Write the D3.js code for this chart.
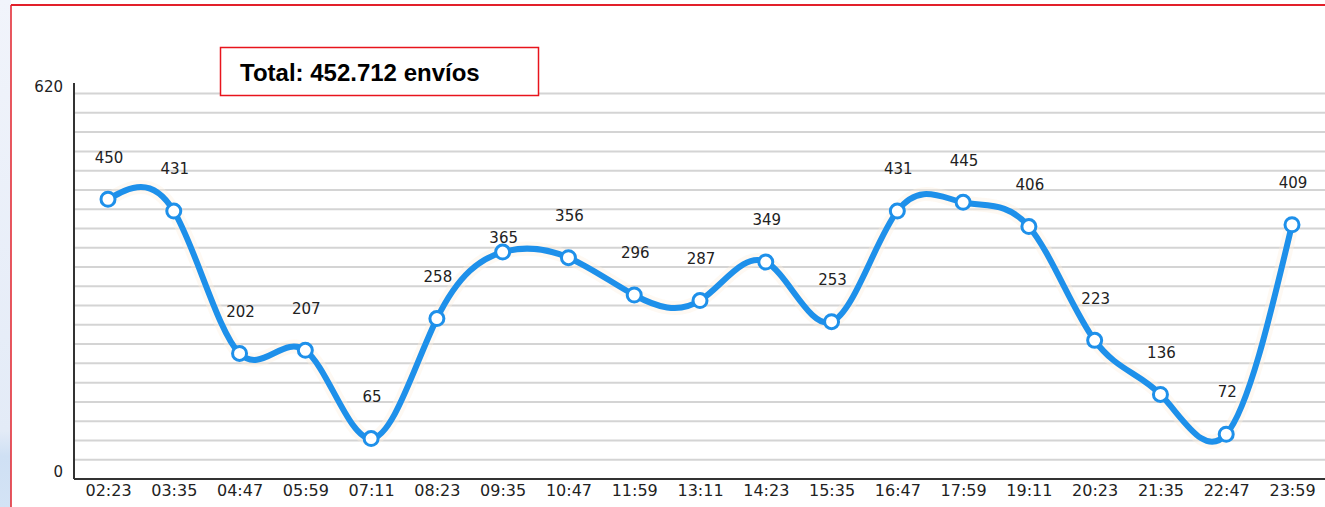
<!DOCTYPE html>
<html>
<head>
<meta charset="utf-8">
<script src="https://cdn.jsdelivr.net/npm/d3@7"></script>
<style>
  body { margin: 0; background: #fff; }
  svg { display: block; }
</style>
</head>
<body>
<div id="chart"></div>
<script>

// data
var horas = ["02:23","03:35","04:47","05:59","07:11","08:23","09:35","10:47","11:59","13:11",
             "14:23","15:35","16:47","17:59","19:11","20:23","21:35","22:47","23:59"];
var envios = [450, 431, 202, 207, 65, 258, 365, 356, 296, 287, 349, 253, 431, 445, 406, 223, 136, 72, 409];
var yTicks = [0, 620];
var totalTexto = "Total: 452.712 envíos";

var W = 1325, H = 507;
var margin = {top: 83, right: 0, bottom: 28, left: 74};

var svg = d3.select("#chart")
  .append("svg")
    .attr("width", W)
    .attr("height", H);

// bluish strip on the left + red frame
var grad = svg.append("defs").append("linearGradient")
    .attr("id", "side").attr("x1", 0).attr("y1", 0).attr("x2", 0).attr("y2", 1);
grad.append("stop").attr("offset", "0").attr("stop-color", "#f1f4fb");
grad.append("stop").attr("offset", "0.85").attr("stop-color", "#e3ebf7");
grad.append("stop").attr("offset", "0.9").attr("stop-color", "#cfe0f4");
grad.append("stop").attr("offset", "1").attr("stop-color", "#d3e3f5");
svg.append("rect").attr("x", 0).attr("y", 0).attr("width", 11).attr("height", H).attr("fill", "url(#side)");
svg.append("line").attr("x1", 11).attr("x2", W).attr("y1", 5).attr("y2", 5)
  .attr("stroke", "#e2202a").attr("stroke-width", 2);
svg.append("line").attr("x1", 11).attr("x2", 11).attr("y1", 5).attr("y2", H)
  .attr("stroke", "#e2202a").attr("stroke-width", 1.5);

var g = svg.append("g")
  .attr("transform", "translate(" + margin.left + "," + margin.top + ")");

var width = W - margin.left - margin.right,
    height = H - margin.top - margin.bottom;

// X axis (points)
var x = d3.scalePoint()
  .domain(horas)
  .range([34, 1218]);

// Y axis: 0 at the bottom, scale runs a little past 620
var y = d3.scaleLinear()
  .domain([0, 637])
  .range([height, 0]);

// horizontal grid every 31
var gridVals = d3.range(31, 621, 31);
g.selectAll(".grid")
  .data(gridVals)
  .enter()
  .append("line")
    .attr("x1", 0)
    .attr("x2", width)
    .attr("y1", function(d) { return y(d); })
    .attr("y2", function(d) { return y(d); })
    .attr("stroke", "#d4d4d4")
    .attr("stroke-width", 2);

// axis lines
g.append("line")
  .attr("x1", 0).attr("x2", 0).attr("y1", 0).attr("y2", height)
  .attr("stroke", "#333").attr("stroke-width", 2);
g.append("line")
  .attr("x1", 0).attr("x2", width).attr("y1", height).attr("y2", height)
  .attr("stroke", "#333").attr("stroke-width", 2);

// y labels
g.selectAll(".ylab")
  .data(yTicks)
  .enter()
  .append("text")
    .attr("x", -11)
    .attr("y", function(d) { return y(d) - 7; })
    .attr("dy", "0.35em")
    .attr("text-anchor", "end")
    .style("font-family", "DejaVu Sans, Verdana, sans-serif")
    .style("font-size", "15px")
    .style("fill", "#222")
    .text(function(d) { return d; });

// x labels
g.append("g")
  .attr("transform", "translate(0," + height + ")")
  .call(d3.axisBottom(x).tickSize(0).tickPadding(6))
  .call(function(s) { s.select(".domain").remove(); })
  .selectAll("text")
    .style("font-family", "DejaVu Sans, Verdana, sans-serif")
    .style("font-size", "16px")
    .style("fill", "#222");

// the line
var line = d3.line()
  .x(function(d, i) { return x(horas[i]); })
  .y(function(d) { return y(d); })
  .curve(d3.curveNatural);

g.append("path")
  .datum(envios)
  .attr("fill", "none")
  .attr("stroke", "#fdf0e0")
  .attr("stroke-opacity", 0.4)
  .attr("stroke-width", 14)
  .attr("d", line);

g.append("path")
  .datum(envios)
  .attr("fill", "none")
  .attr("stroke", "#1e90ea")
  .attr("stroke-width", 6)
  .attr("stroke-linejoin", "round")
  .attr("d", line);

// markers
g.selectAll(".pt")
  .data(envios)
  .enter()
  .append("circle")
    .attr("cx", function(d, i) { return x(horas[i]); })
    .attr("cy", function(d) { return y(d); })
    .attr("r", 7)
    .attr("fill", "#fff")
    .attr("stroke", "#1e90ea")
    .attr("stroke-width", 3);

// value labels (the 09:35 one sits lower in the original)
g.selectAll(".vlab")
  .data(envios)
  .enter()
  .append("text")
    .attr("x", function(d, i) { return x(horas[i]) + 1; })
    .attr("y", function(d, i) { return y(d) - (horas[i] == "09:35" ? 14 : 42); })
    .attr("dy", "0.35em")
    .attr("text-anchor", "middle")
    .style("font-family", "DejaVu Sans, Verdana, sans-serif")
    .style("font-size", "15px")
    .style("fill", "#222")
    .text(function(d) { return d; });

// total box
svg.append("rect")
  .attr("x", 220.5).attr("y", 47.5).attr("width", 318).attr("height", 48)
  .attr("fill", "#fff")
  .attr("stroke", "#e8141c")
  .attr("stroke-width", 1.5);
svg.append("text")
  .attr("x", 240).attr("y", 81)
  .style("font-family", "Liberation Sans, Arial, sans-serif")
  .style("font-weight", "bold")
  .style("font-size", "24px")
  .style("fill", "#000")
  .text(totalTexto);

</script>
</body>
</html>
